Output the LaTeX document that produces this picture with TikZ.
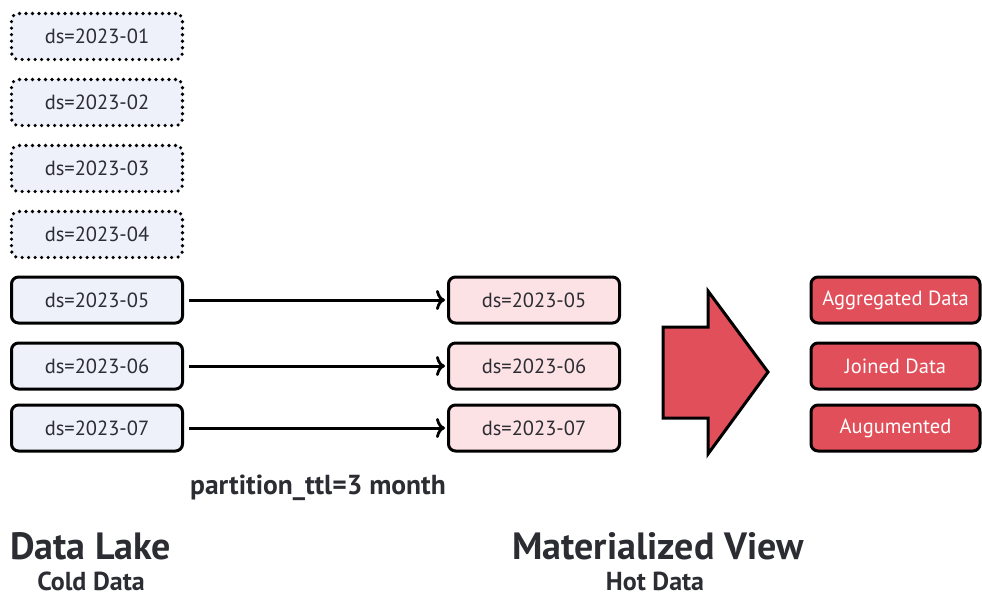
\documentclass[tikz,border=0pt]{standalone}
\usepackage{fontspec}
\setmainfont{PT Sans}
\usetikzlibrary{arrows.meta}
\definecolor{coldfill}{HTML}{EEF0FA}
\definecolor{hotfill}{HTML}{FDE2E5}
\definecolor{viewred}{HTML}{E04F5A}
\definecolor{ink}{HTML}{2B2D33}
\begin{document}
\begin{tikzpicture}[x=1pt,y=-1pt,
  part/.style={draw=black,line width=3pt,rounded corners=7pt,minimum width=171pt,minimum height=46pt,
    inner sep=0pt,font=\fontsize{20.5}{24}\selectfont,text=ink},
  oldpart/.style={part,fill=coldfill,line width=3.6pt,dash pattern=on 0pt off 6.5pt,line cap=round},
  coldpart/.style={part,fill=coldfill},
  hotpart/.style={part,fill=hotfill},
  viewpart/.style={part,fill=viewred,text=white,minimum width=169pt},
  feed/.style={-{To[length=9pt,width=20pt,line width=2.8pt]},line width=3pt},
  title/.style={font=\bfseries\fontsize{38}{42}\selectfont,text=ink,inner sep=0pt},
  subtitle/.style={font=\bfseries\fontsize{26}{29}\selectfont,text=ink,inner sep=0pt,anchor=base}]
\useasboundingbox (0,0) rectangle (982,599);
% expired partitions in the data lake
\node[oldpart] (c1) at (97,36.5) {ds=2023-01};
\node[oldpart] (c2) at (97,102.5) {ds=2023-02};
\node[oldpart] (c3) at (97,168.5) {ds=2023-03};
\node[oldpart] (c4) at (97,234.5) {ds=2023-04};
% live partitions
\node[coldpart] (c5) at (97,300) {ds=2023-05};
\node[coldpart] (c6) at (97,366) {ds=2023-06};
\node[coldpart] (c7) at (97,428) {ds=2023-07};
% partitions kept in the materialized view
\node[hotpart] (h5) at (534,300) {ds=2023-05};
\node[hotpart] (h6) at (534,366) {ds=2023-06};
\node[hotpart] (h7) at (534,428) {ds=2023-07};
\draw[feed] (c5.east) ++(5,0) coordinate (s5) -- ([xshift=-2pt]h5.west);
\draw[feed] (c6.east) ++(5,0) coordinate (s6) -- ([xshift=-2pt]h6.west);
\draw[feed] (c7.east) ++(5,0) coordinate (s7) -- ([xshift=-2pt]h7.west);
% derived results
\node[viewpart] (v1) at (895.5,300) {Aggregated Data};
\node[viewpart] (v2) at (895.5,366) {Joined Data};
\node[viewpart] (v3) at (895.5,428) {Augumented};
% block arrow
\draw[fill=viewred,line width=3pt,line join=miter]
  (663,327) -- (708,327) -- (708,291) -- (768,372) -- (708,454) -- (708,418) -- (663,418) -- cycle;
% captions
\node[font=\bfseries\fontsize{27.5}{30}\selectfont,text=ink] (ttl) at (318,488) {partition\_ttl=3 month};
\node[title,anchor=west] (lake) at (10,546) {Data Lake};
\node[subtitle] (cold) at (91,590) {Cold Data};
\node[title] (mv) at (658,546) {Materialized View};
\node[subtitle] (hot) at (655,590) {Hot Data};
\end{tikzpicture}
\end{document}
